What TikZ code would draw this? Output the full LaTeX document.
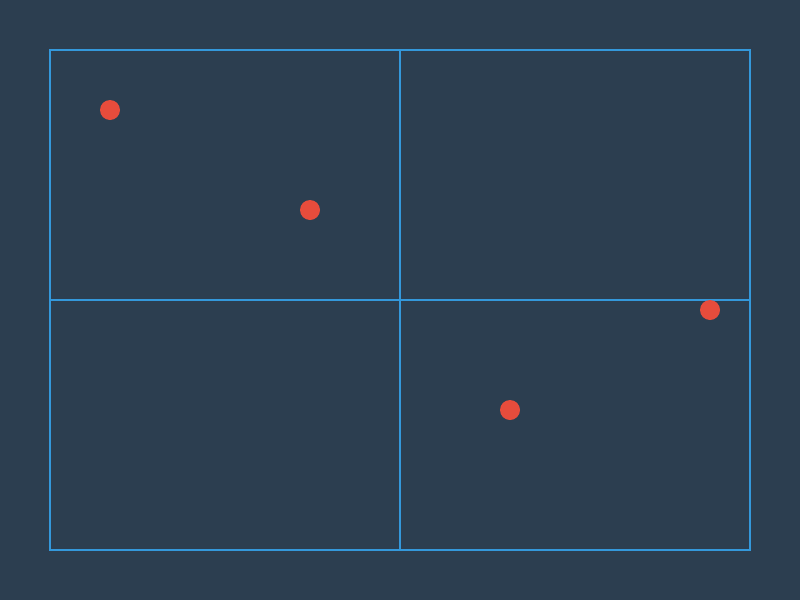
\documentclass[tikz,border=0pt]{standalone}
\definecolor{bgblue}{HTML}{2C3E50}
\definecolor{gridblue}{HTML}{3498DB}
\definecolor{dotred}{HTML}{E74C3C}
\tikzset{
	pt/.style={circle,fill=dotred,inner sep=0pt,minimum size=20pt},
	gridline/.style={draw=gridblue,line width=2pt}
}
\begin{document}
\begin{tikzpicture}[x=1pt,y=-1pt]
	\fill[bgblue] (0,0) rectangle (800,600);
	\useasboundingbox (0,0) rectangle (800,600);

	\draw[gridline] (50,50) rectangle (750,550);
	\draw[gridline] (400,50) -- (400,550);
	\draw[gridline] (50,300) -- (750,300);

	\foreach \name/\x/\y in {p1/110/110,p2/310/210,p3/710/310,p4/510/410}
		\node[pt] (\name) at (\x,\y) {};
\end{tikzpicture}
\end{document}
